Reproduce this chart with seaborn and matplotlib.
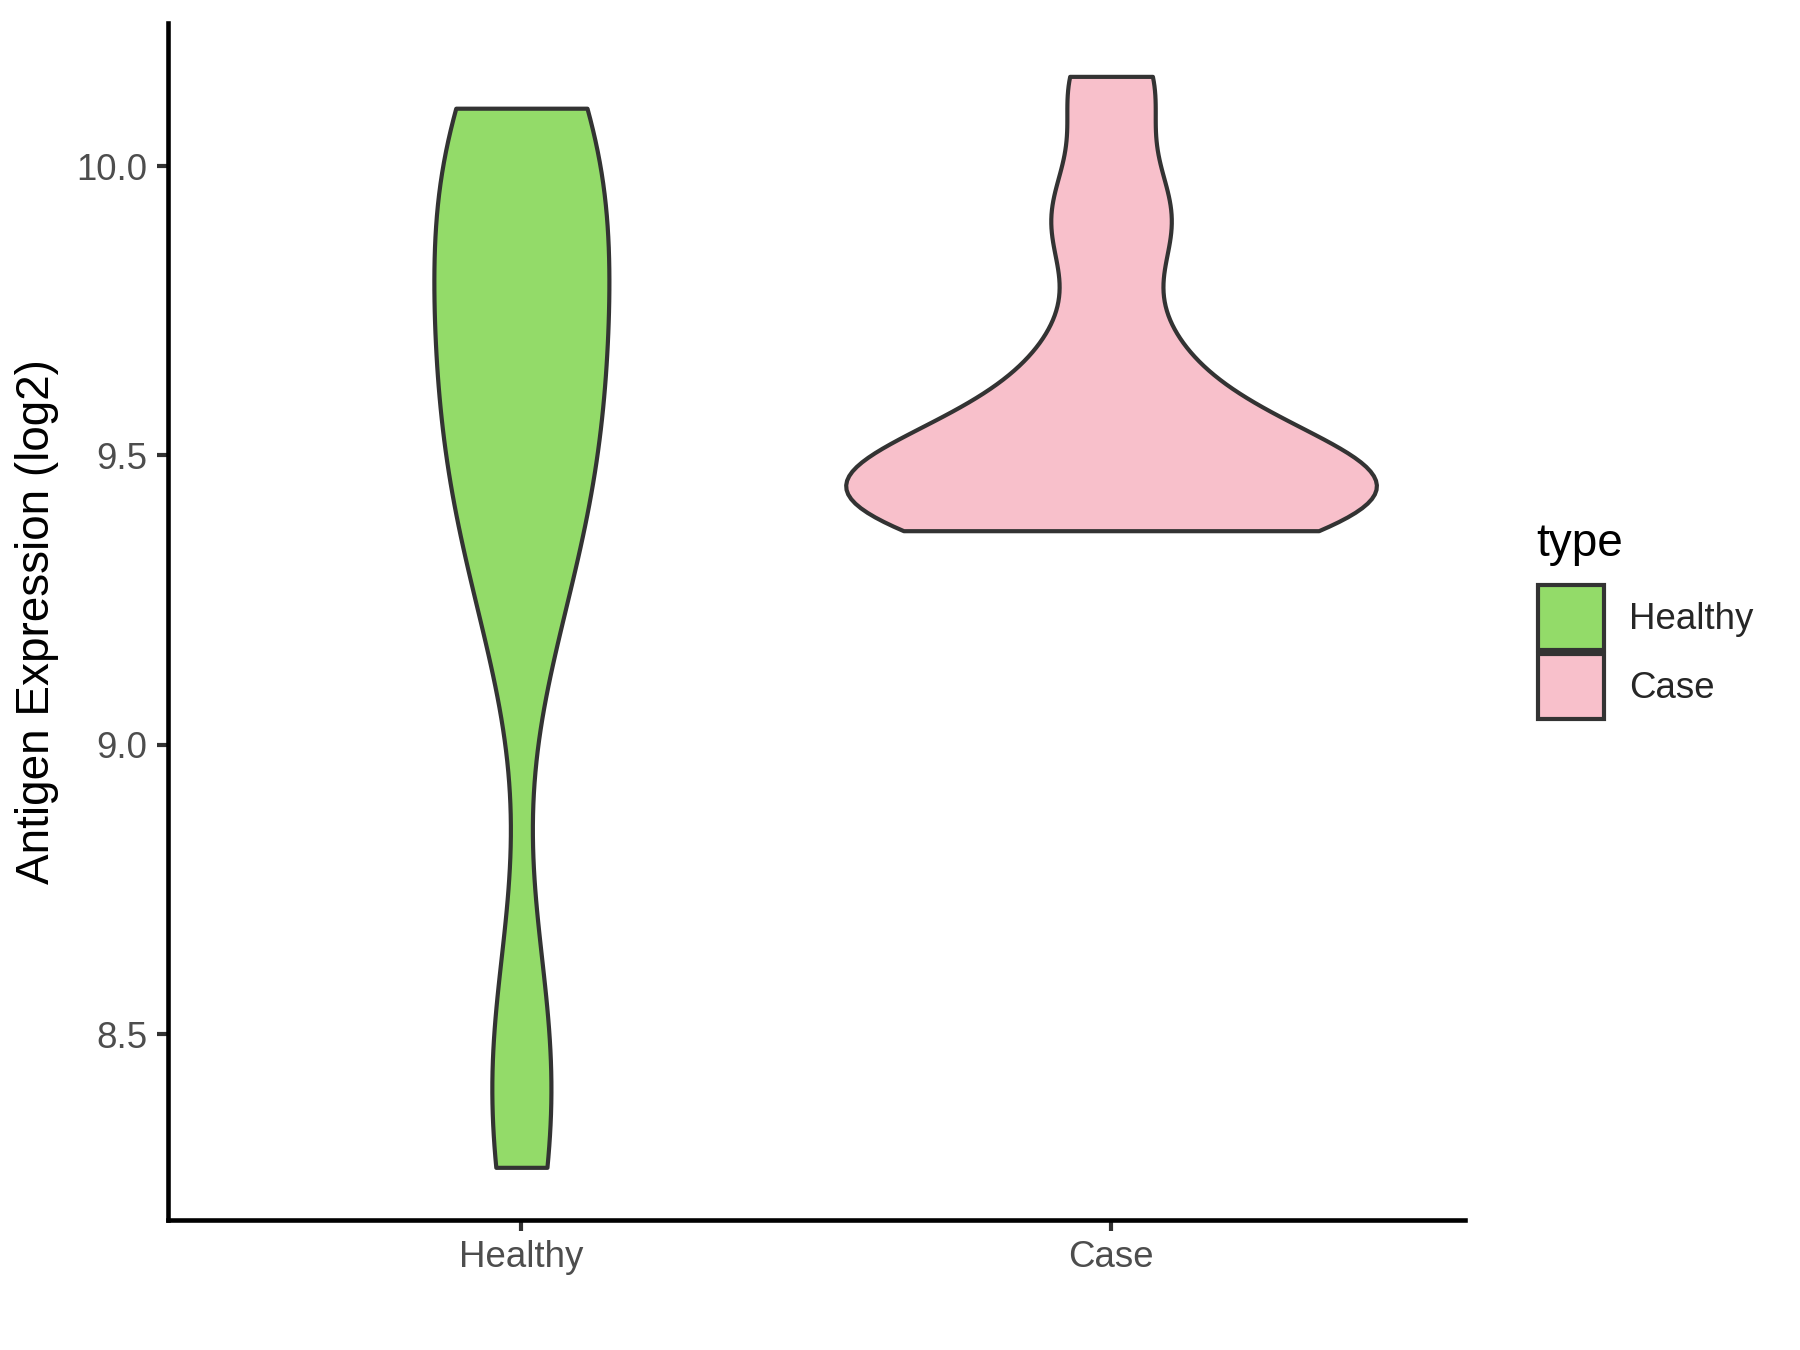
import numpy as np
import pandas as pd
import matplotlib
matplotlib.use("Agg")
import matplotlib.pyplot as plt
import matplotlib.patches as mpatches
import seaborn as sns

# values (log2 antigen expression)
healthy_values = [8.27, 8.34, 8.46, 8.56, 9.2, 9.27, 9.36, 9.42, 9.48, 9.53,
                  9.58, 9.63, 9.68, 9.73, 9.78, 9.84, 9.9, 9.96, 10.01,
                  10.05, 10.08, 10.1, 10.1]
case_values = [9.37, 9.38, 9.39, 9.40, 9.41, 9.42, 9.43, 9.44, 9.45, 9.46,
               9.47, 9.48, 9.50, 9.52, 9.55, 9.60, 9.66, 9.71, 9.87, 9.91,
               9.95, 10.13, 10.155]
groups = ["Healthy", "Case"]
colors = {"Healthy": "#93DB69", "Case": "#F8C0CB"}

df = pd.DataFrame({
    "type": ["Healthy"] * len(healthy_values) + ["Case"] * len(case_values),
    "value": healthy_values + case_values,
})


def nrd0(kde):
    # R's default bandwidth rule, as a factor of the sample sd
    x = kde.dataset.ravel()
    sd = x.std(ddof=1)
    iqr = np.subtract(*np.percentile(x, [75, 25]))
    h = 0.9 * min(sd, iqr / 1.34) * len(x) ** -0.2
    return h / sd


sns.set_style("ticks")
plt.rcParams["font.family"] = ["Liberation Sans", "DejaVu Sans"]

fig = plt.figure(figsize=(6, 4.5), dpi=300)
ax = fig.add_axes([0.0931, 0.0963, 0.7207, 0.887])

sns.violinplot(data=df, x="type", y="value", order=groups, color="white",
               cut=0, inner=None, density_norm="area", width=0.9,
               bw_method=nrd0, bw_adjust=1.0, linewidth=1.0,
               linecolor="#333333", saturation=1, ax=ax)
for coll, g in zip(ax.collections, groups):
    coll.set_facecolor(colors[g])

ax.set_xlim(-0.6, 1.6)
ax.set_ylim(8.179, 10.248)
ax.set_yticks([8.5, 9.0, 9.5, 10.0])
ax.set_yticklabels(["8.5", "9.0", "9.5", "10.0"])
ax.set_xlabel("")
ax.set_ylabel("Antigen Expression (log2)", fontsize=11, color="black")
ax.tick_params(axis="both", labelsize=8.8, labelcolor="#4D4D4D",
               color="#333333", width=1.0, length=2.7, pad=2.2)
for side in ["top", "right"]:
    ax.spines[side].set_visible(False)
for side in ["left", "bottom"]:
    ax.spines[side].set_linewidth(1.1)
    ax.spines[side].set_color("black")

# legend: title placed on its own, keys stacked below
fig.text(0.8533, 0.588, "type", fontsize=11, color="black",
         ha="left", va="baseline")
handles = [mpatches.Patch(facecolor=colors[g], edgecolor="#333333",
                          linewidth=1.0, label=g) for g in groups]
fig.legend(handles=handles, loc="upper left",
           bbox_to_anchor=(0.8546, 0.567), frameon=False,
           fontsize=8.8, handlelength=1.78, handleheight=2.37,
           labelspacing=0.1, handletextpad=0.7, borderpad=0,
           borderaxespad=0)

fig.savefig("out.png", dpi=300)
